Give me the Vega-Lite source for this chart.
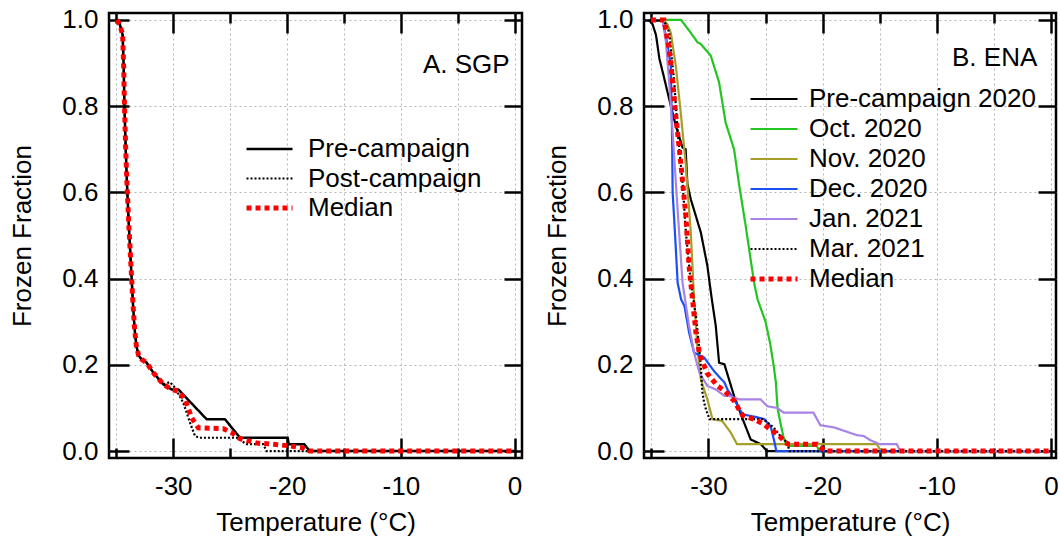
{
  "$schema": "https://vega.github.io/schema/vega-lite/v6.json",
  "padding": {"left": 8, "top": 5, "right": 5, "bottom": 11},
  "config": {
    "font": "Liberation Sans",
    "view": {"stroke": "#000000", "strokeWidth": 2.5},
    "axis": {
      "domain": false,
      "labelFont": "Liberation Sans", "labelFontSize": 26, "labelColor": "#000000",
      "titleFont": "Liberation Sans", "titleFontSize": 26, "titleFontWeight": "normal", "titleColor": "#000000",
      "tickColor": "#000000", "tickWidth": 2.5,
      "gridColor": "#b4b4b4", "gridDash": [2, 3], "gridWidth": 1,
      "labelFlush": false, "labelOverlap": false
    },
    "legend": {"labelFont": "Liberation Sans", "labelFontSize": 26, "labelColor": "#000000", "labelLimit": 0, "clipHeight": 26}
  },
  "datasets": {
    "sgp": [
      {"series": "Pre-campaign", "t": -34.97, "ff": 1.0},
      {"series": "Pre-campaign", "t": -34.7, "ff": 0.99},
      {"series": "Pre-campaign", "t": -34.45, "ff": 0.965},
      {"series": "Pre-campaign", "t": -34.36, "ff": 0.89},
      {"series": "Pre-campaign", "t": -34.29, "ff": 0.8},
      {"series": "Pre-campaign", "t": -34.18, "ff": 0.7},
      {"series": "Pre-campaign", "t": -34.07, "ff": 0.62},
      {"series": "Pre-campaign", "t": -33.9, "ff": 0.52},
      {"series": "Pre-campaign", "t": -33.72, "ff": 0.43},
      {"series": "Pre-campaign", "t": -33.56, "ff": 0.35},
      {"series": "Pre-campaign", "t": -33.42, "ff": 0.29},
      {"series": "Pre-campaign", "t": -33.25, "ff": 0.245},
      {"series": "Pre-campaign", "t": -33.05, "ff": 0.222},
      {"series": "Pre-campaign", "t": -32.8, "ff": 0.213},
      {"series": "Pre-campaign", "t": -32.34, "ff": 0.205},
      {"series": "Pre-campaign", "t": -31.76, "ff": 0.182},
      {"series": "Pre-campaign", "t": -30.88, "ff": 0.155},
      {"series": "Pre-campaign", "t": -30.14, "ff": 0.143},
      {"series": "Pre-campaign", "t": -29.56, "ff": 0.143},
      {"series": "Pre-campaign", "t": -27.07, "ff": 0.074},
      {"series": "Pre-campaign", "t": -25.46, "ff": 0.074},
      {"series": "Pre-campaign", "t": -24.14, "ff": 0.031},
      {"series": "Pre-campaign", "t": -19.95, "ff": 0.031},
      {"series": "Pre-campaign", "t": -19.85, "ff": 0.016},
      {"series": "Pre-campaign", "t": -18.5, "ff": 0.016},
      {"series": "Pre-campaign", "t": -18.0, "ff": 0.0},
      {"series": "Pre-campaign", "t": 0.0, "ff": 0.0},

      {"series": "Post-campaign", "t": -34.97, "ff": 1.0},
      {"series": "Post-campaign", "t": -34.7, "ff": 0.99},
      {"series": "Post-campaign", "t": -34.45, "ff": 0.965},
      {"series": "Post-campaign", "t": -34.36, "ff": 0.89},
      {"series": "Post-campaign", "t": -34.29, "ff": 0.8},
      {"series": "Post-campaign", "t": -34.18, "ff": 0.7},
      {"series": "Post-campaign", "t": -34.07, "ff": 0.62},
      {"series": "Post-campaign", "t": -33.9, "ff": 0.52},
      {"series": "Post-campaign", "t": -33.72, "ff": 0.43},
      {"series": "Post-campaign", "t": -33.56, "ff": 0.35},
      {"series": "Post-campaign", "t": -33.42, "ff": 0.29},
      {"series": "Post-campaign", "t": -33.25, "ff": 0.245},
      {"series": "Post-campaign", "t": -33.05, "ff": 0.222},
      {"series": "Post-campaign", "t": -32.8, "ff": 0.213},
      {"series": "Post-campaign", "t": -32.34, "ff": 0.205},
      {"series": "Post-campaign", "t": -31.76, "ff": 0.182},
      {"series": "Post-campaign", "t": -30.88, "ff": 0.155},
      {"series": "Post-campaign", "t": -30.3, "ff": 0.16},
      {"series": "Post-campaign", "t": -29.85, "ff": 0.147},
      {"series": "Post-campaign", "t": -29.12, "ff": 0.112},
      {"series": "Post-campaign", "t": -28.53, "ff": 0.066},
      {"series": "Post-campaign", "t": -28.09, "ff": 0.035},
      {"series": "Post-campaign", "t": -27.7, "ff": 0.031},
      {"series": "Post-campaign", "t": -24.43, "ff": 0.031},
      {"series": "Post-campaign", "t": -23.56, "ff": 0.016},
      {"series": "Post-campaign", "t": -22.1, "ff": 0.016},
      {"series": "Post-campaign", "t": -21.8, "ff": 0.0},
      {"series": "Post-campaign", "t": 0.0, "ff": 0.0},

      {"series": "Median", "t": -34.97, "ff": 1.0},
      {"series": "Median", "t": -34.7, "ff": 0.99},
      {"series": "Median", "t": -34.45, "ff": 0.965},
      {"series": "Median", "t": -34.36, "ff": 0.89},
      {"series": "Median", "t": -34.29, "ff": 0.8},
      {"series": "Median", "t": -34.18, "ff": 0.7},
      {"series": "Median", "t": -34.07, "ff": 0.62},
      {"series": "Median", "t": -33.9, "ff": 0.52},
      {"series": "Median", "t": -33.72, "ff": 0.43},
      {"series": "Median", "t": -33.56, "ff": 0.35},
      {"series": "Median", "t": -33.42, "ff": 0.29},
      {"series": "Median", "t": -33.25, "ff": 0.245},
      {"series": "Median", "t": -33.05, "ff": 0.222},
      {"series": "Median", "t": -32.8, "ff": 0.213},
      {"series": "Median", "t": -32.34, "ff": 0.205},
      {"series": "Median", "t": -31.76, "ff": 0.182},
      {"series": "Median", "t": -30.88, "ff": 0.155},
      {"series": "Median", "t": -30.14, "ff": 0.143},
      {"series": "Median", "t": -29.56, "ff": 0.139},
      {"series": "Median", "t": -28.97, "ff": 0.12},
      {"series": "Median", "t": -28.38, "ff": 0.077},
      {"series": "Median", "t": -27.8, "ff": 0.054},
      {"series": "Median", "t": -25.6, "ff": 0.052},
      {"series": "Median", "t": -24.87, "ff": 0.043},
      {"series": "Median", "t": -24.14, "ff": 0.029},
      {"series": "Median", "t": -22.68, "ff": 0.019},
      {"series": "Median", "t": -21.2, "ff": 0.016},
      {"series": "Median", "t": -19.75, "ff": 0.012},
      {"series": "Median", "t": -18.73, "ff": 0.008},
      {"series": "Median", "t": -18.0, "ff": 0.0},
      {"series": "Median", "t": 0.0, "ff": 0.0}
    ],
    "ena": [
      {"series": "Pre-campaign 2020", "t": -35.25, "ff": 1.0},
      {"series": "Pre-campaign 2020", "t": -34.9, "ff": 0.99},
      {"series": "Pre-campaign 2020", "t": -34.6, "ff": 0.965},
      {"series": "Pre-campaign 2020", "t": -34.3, "ff": 0.91},
      {"series": "Pre-campaign 2020", "t": -34.0, "ff": 0.878},
      {"series": "Pre-campaign 2020", "t": -33.44, "ff": 0.816},
      {"series": "Pre-campaign 2020", "t": -32.86, "ff": 0.754},
      {"series": "Pre-campaign 2020", "t": -32.27, "ff": 0.704},
      {"series": "Pre-campaign 2020", "t": -32.0, "ff": 0.7},
      {"series": "Pre-campaign 2020", "t": -31.85, "ff": 0.62},
      {"series": "Pre-campaign 2020", "t": -31.55, "ff": 0.584},
      {"series": "Pre-campaign 2020", "t": -30.67, "ff": 0.507},
      {"series": "Pre-campaign 2020", "t": -30.1, "ff": 0.43},
      {"series": "Pre-campaign 2020", "t": -29.75, "ff": 0.36},
      {"series": "Pre-campaign 2020", "t": -29.36, "ff": 0.29},
      {"series": "Pre-campaign 2020", "t": -29.07, "ff": 0.205},
      {"series": "Pre-campaign 2020", "t": -28.6, "ff": 0.201},
      {"series": "Pre-campaign 2020", "t": -27.76, "ff": 0.128},
      {"series": "Pre-campaign 2020", "t": -27.0, "ff": 0.074},
      {"series": "Pre-campaign 2020", "t": -26.3, "ff": 0.027},
      {"series": "Pre-campaign 2020", "t": -25.4, "ff": 0.016},
      {"series": "Pre-campaign 2020", "t": -25.0, "ff": 0.004},
      {"series": "Pre-campaign 2020", "t": -24.8, "ff": 0.0},
      {"series": "Pre-campaign 2020", "t": 0.0, "ff": 0.0},

      {"series": "Oct. 2020", "t": -33.8, "ff": 1.0},
      {"series": "Oct. 2020", "t": -32.4, "ff": 1.0},
      {"series": "Oct. 2020", "t": -31.55, "ff": 0.97},
      {"series": "Oct. 2020", "t": -30.96, "ff": 0.948},
      {"series": "Oct. 2020", "t": -30.67, "ff": 0.944},
      {"series": "Oct. 2020", "t": -29.8, "ff": 0.917},
      {"series": "Oct. 2020", "t": -29.07, "ff": 0.855},
      {"series": "Oct. 2020", "t": -28.5, "ff": 0.762},
      {"series": "Oct. 2020", "t": -27.76, "ff": 0.7},
      {"series": "Oct. 2020", "t": -27.3, "ff": 0.615},
      {"series": "Oct. 2020", "t": -26.74, "ff": 0.522},
      {"series": "Oct. 2020", "t": -26.0, "ff": 0.39},
      {"series": "Oct. 2020", "t": -25.7, "ff": 0.352},
      {"series": "Oct. 2020", "t": -25.0, "ff": 0.3},
      {"series": "Oct. 2020", "t": -24.6, "ff": 0.25},
      {"series": "Oct. 2020", "t": -24.3, "ff": 0.2},
      {"series": "Oct. 2020", "t": -24.1, "ff": 0.16},
      {"series": "Oct. 2020", "t": -23.95, "ff": 0.1},
      {"series": "Oct. 2020", "t": -23.7, "ff": 0.066},
      {"series": "Oct. 2020", "t": -23.45, "ff": 0.035},
      {"series": "Oct. 2020", "t": -23.25, "ff": 0.018},
      {"series": "Oct. 2020", "t": -22.9, "ff": 0.012},
      {"series": "Oct. 2020", "t": -20.5, "ff": 0.012},
      {"series": "Oct. 2020", "t": -20.3, "ff": 0.0},
      {"series": "Oct. 2020", "t": 0.0, "ff": 0.0},

      {"series": "Nov. 2020", "t": -34.0, "ff": 1.0},
      {"series": "Nov. 2020", "t": -33.6, "ff": 0.99},
      {"series": "Nov. 2020", "t": -33.3, "ff": 0.97},
      {"series": "Nov. 2020", "t": -32.86, "ff": 0.893},
      {"series": "Nov. 2020", "t": -32.4, "ff": 0.777},
      {"series": "Nov. 2020", "t": -31.98, "ff": 0.661},
      {"series": "Nov. 2020", "t": -31.55, "ff": 0.507},
      {"series": "Nov. 2020", "t": -31.26, "ff": 0.352},
      {"series": "Nov. 2020", "t": -30.96, "ff": 0.236},
      {"series": "Nov. 2020", "t": -30.67, "ff": 0.166},
      {"series": "Nov. 2020", "t": -30.1, "ff": 0.12},
      {"series": "Nov. 2020", "t": -29.65, "ff": 0.074},
      {"series": "Nov. 2020", "t": -28.8, "ff": 0.07},
      {"series": "Nov. 2020", "t": -28.05, "ff": 0.043},
      {"series": "Nov. 2020", "t": -27.5, "ff": 0.016},
      {"series": "Nov. 2020", "t": -15.24, "ff": 0.016},
      {"series": "Nov. 2020", "t": -14.9, "ff": 0.0},
      {"series": "Nov. 2020", "t": 0.0, "ff": 0.0},

      {"series": "Dec. 2020", "t": -34.0, "ff": 1.0},
      {"series": "Dec. 2020", "t": -33.58, "ff": 0.94},
      {"series": "Dec. 2020", "t": -33.3, "ff": 0.893},
      {"series": "Dec. 2020", "t": -33.2, "ff": 0.75},
      {"series": "Dec. 2020", "t": -33.14, "ff": 0.6},
      {"series": "Dec. 2020", "t": -32.94, "ff": 0.507},
      {"series": "Dec. 2020", "t": -32.7, "ff": 0.39},
      {"series": "Dec. 2020", "t": -32.4, "ff": 0.352},
      {"series": "Dec. 2020", "t": -32.1, "ff": 0.336},
      {"series": "Dec. 2020", "t": -31.7, "ff": 0.275},
      {"series": "Dec. 2020", "t": -31.26, "ff": 0.228},
      {"series": "Dec. 2020", "t": -30.38, "ff": 0.217},
      {"series": "Dec. 2020", "t": -29.5, "ff": 0.185},
      {"series": "Dec. 2020", "t": -28.6, "ff": 0.159},
      {"series": "Dec. 2020", "t": -28.34, "ff": 0.143},
      {"series": "Dec. 2020", "t": -27.76, "ff": 0.12},
      {"series": "Dec. 2020", "t": -27.0, "ff": 0.085},
      {"series": "Dec. 2020", "t": -26.0, "ff": 0.08},
      {"series": "Dec. 2020", "t": -25.1, "ff": 0.074},
      {"series": "Dec. 2020", "t": -24.56, "ff": 0.058},
      {"series": "Dec. 2020", "t": -24.27, "ff": 0.027},
      {"series": "Dec. 2020", "t": -24.05, "ff": 0.0},
      {"series": "Dec. 2020", "t": 0.0, "ff": 0.0},

      {"series": "Jan. 2021", "t": -34.0, "ff": 1.0},
      {"series": "Jan. 2021", "t": -33.73, "ff": 0.948},
      {"series": "Jan. 2021", "t": -33.44, "ff": 0.855},
      {"series": "Jan. 2021", "t": -33.14, "ff": 0.74},
      {"series": "Jan. 2021", "t": -32.86, "ff": 0.623},
      {"series": "Jan. 2021", "t": -32.57, "ff": 0.507},
      {"series": "Jan. 2021", "t": -32.27, "ff": 0.39},
      {"series": "Jan. 2021", "t": -31.7, "ff": 0.29},
      {"series": "Jan. 2021", "t": -31.26, "ff": 0.228},
      {"series": "Jan. 2021", "t": -30.8, "ff": 0.182},
      {"series": "Jan. 2021", "t": -30.1, "ff": 0.151},
      {"series": "Jan. 2021", "t": -29.36, "ff": 0.143},
      {"series": "Jan. 2021", "t": -28.6, "ff": 0.128},
      {"series": "Jan. 2021", "t": -28.2, "ff": 0.128},
      {"series": "Jan. 2021", "t": -27.3, "ff": 0.12},
      {"series": "Jan. 2021", "t": -25.43, "ff": 0.12},
      {"series": "Jan. 2021", "t": -24.85, "ff": 0.104},
      {"series": "Jan. 2021", "t": -23.97, "ff": 0.1},
      {"series": "Jan. 2021", "t": -23.4, "ff": 0.089},
      {"series": "Jan. 2021", "t": -20.8, "ff": 0.089},
      {"series": "Jan. 2021", "t": -20.2, "ff": 0.06},
      {"series": "Jan. 2021", "t": -19.0, "ff": 0.055},
      {"series": "Jan. 2021", "t": -18.0, "ff": 0.046},
      {"series": "Jan. 2021", "t": -17.0, "ff": 0.037},
      {"series": "Jan. 2021", "t": -16.4, "ff": 0.035},
      {"series": "Jan. 2021", "t": -15.8, "ff": 0.025},
      {"series": "Jan. 2021", "t": -15.0, "ff": 0.016},
      {"series": "Jan. 2021", "t": -13.5, "ff": 0.016},
      {"series": "Jan. 2021", "t": -13.2, "ff": 0.0},
      {"series": "Jan. 2021", "t": 0.0, "ff": 0.0},

      {"series": "Mar. 2021", "t": -34.1, "ff": 1.0},
      {"series": "Mar. 2021", "t": -33.7, "ff": 0.99},
      {"series": "Mar. 2021", "t": -33.44, "ff": 0.97},
      {"series": "Mar. 2021", "t": -33.0, "ff": 0.855},
      {"series": "Mar. 2021", "t": -32.7, "ff": 0.74},
      {"series": "Mar. 2021", "t": -32.27, "ff": 0.623},
      {"series": "Mar. 2021", "t": -31.98, "ff": 0.507},
      {"series": "Mar. 2021", "t": -31.55, "ff": 0.39},
      {"series": "Mar. 2021", "t": -31.1, "ff": 0.313},
      {"series": "Mar. 2021", "t": -30.8, "ff": 0.236},
      {"series": "Mar. 2021", "t": -30.67, "ff": 0.197},
      {"series": "Mar. 2021", "t": -30.55, "ff": 0.14},
      {"series": "Mar. 2021", "t": -30.38, "ff": 0.112},
      {"series": "Mar. 2021", "t": -30.2, "ff": 0.095},
      {"series": "Mar. 2021", "t": -29.9, "ff": 0.074},
      {"series": "Mar. 2021", "t": -25.2, "ff": 0.074},
      {"series": "Mar. 2021", "t": -24.27, "ff": 0.054},
      {"series": "Mar. 2021", "t": -23.7, "ff": 0.035},
      {"series": "Mar. 2021", "t": -23.1, "ff": 0.02},
      {"series": "Mar. 2021", "t": -22.9, "ff": 0.0},
      {"series": "Mar. 2021", "t": 0.0, "ff": 0.0},

      {"series": "Median", "t": -35.04, "ff": 1.0},
      {"series": "Median", "t": -33.9, "ff": 1.0},
      {"series": "Median", "t": -33.44, "ff": 0.932},
      {"series": "Median", "t": -33.14, "ff": 0.855},
      {"series": "Median", "t": -32.86, "ff": 0.777},
      {"series": "Median", "t": -32.4, "ff": 0.661},
      {"series": "Median", "t": -31.98, "ff": 0.545},
      {"series": "Median", "t": -31.7, "ff": 0.429},
      {"series": "Median", "t": -31.4, "ff": 0.352},
      {"series": "Median", "t": -31.1, "ff": 0.275},
      {"series": "Median", "t": -30.8, "ff": 0.228},
      {"series": "Median", "t": -30.67, "ff": 0.217},
      {"series": "Median", "t": -30.1, "ff": 0.18},
      {"series": "Median", "t": -29.65, "ff": 0.165},
      {"series": "Median", "t": -29.2, "ff": 0.151},
      {"series": "Median", "t": -28.6, "ff": 0.14},
      {"series": "Median", "t": -27.7, "ff": 0.115},
      {"series": "Median", "t": -27.3, "ff": 0.095},
      {"series": "Median", "t": -27.0, "ff": 0.083},
      {"series": "Median", "t": -26.0, "ff": 0.074},
      {"series": "Median", "t": -25.14, "ff": 0.062},
      {"series": "Median", "t": -24.56, "ff": 0.05},
      {"series": "Median", "t": -23.97, "ff": 0.04},
      {"series": "Median", "t": -23.25, "ff": 0.02},
      {"series": "Median", "t": -23.0, "ff": 0.016},
      {"series": "Median", "t": -20.5, "ff": 0.016},
      {"series": "Median", "t": -19.8, "ff": 0.0},
      {"series": "Median", "t": 0.0, "ff": 0.0}
    ]
  },
  "spacing": 122,
  "bounds": "flush",
  "resolve": {"scale": {"color": "independent", "strokeDash": "independent", "strokeWidth": "independent"}},
  "hconcat": [
    {
      "width": 413,
      "height": 445,
      "data": {"name": "sgp"},
      "resolve": {"axis": {"x": "independent", "y": "independent"}},
      "layer": [
        {
          "transform": [{"filter": "datum.series !== 'Median'"}],
          "mark": {"type": "line", "clip": true},
          "encoding": {
            "x": {"field": "t", "type": "quantitative",
              "scale": {"domain": [-35.65, 0.65], "nice": false, "zero": false},
              "axis": {"orient": "bottom", "values": [-35, -30, -25, -20, -15, -10, -5, 0],
                "labelExpr": "datum.value % 10 === 0 ? '' + datum.value : ''",
                "tickSize": {"condition": {"test": "datum.value % 10 === 0", "value": -20}, "value": -10},
                "labelPadding": 35, "grid": true, "title": "Temperature (°C)", "titlePadding": 0}},
            "y": {"field": "ff", "type": "quantitative",
              "scale": {"domain": [-0.016, 1.016], "nice": false, "zero": false},
              "axis": {"orient": "left", "values": [0, 0.2, 0.4, 0.6, 0.8, 1], "format": ".1f",
                "tickSize": -20, "labelPadding": 31, "grid": true, "title": "Frozen Fraction", "titlePadding": 26}},
            "color": {"field": "series", "type": "nominal",
              "scale": {"domain": ["Pre-campaign", "Post-campaign", "Median"], "range": ["#000000", "#000000", "#ff0000"]},
              "legend": {"orient": "none", "legendX": 135, "legendY": 123, "title": null, "symbolType": "stroke", "symbolSize": 2116, "labelOffset": 13, "rowPadding": 3.5, "padding": 0}},
            "strokeDash": {"field": "series", "type": "nominal",
              "scale": {"type": "ordinal", "domain": ["Pre-campaign", "Post-campaign", "Median"], "range": [[1, 0], [2, 2], [5, 4]]},
              "legend": {"orient": "none", "legendX": 135, "legendY": 123, "title": null, "symbolType": "stroke", "symbolSize": 2116, "labelOffset": 13, "rowPadding": 3.5, "padding": 0}},
            "strokeWidth": {"field": "series", "type": "nominal",
              "scale": {"type": "ordinal", "domain": ["Pre-campaign", "Post-campaign", "Median"], "range": [2.5, 2.2, 5]},
              "legend": {"orient": "none", "legendX": 135, "legendY": 123, "title": null, "symbolType": "stroke", "symbolSize": 2116, "labelOffset": 13, "rowPadding": 3.5, "padding": 0}}
          }
        },
        {
          "transform": [{"filter": "datum.series === 'Median'"}],
          "mark": {"type": "line", "clip": true},
          "encoding": {
            "x": {"field": "t", "type": "quantitative",
              "scale": {"domain": [-35.65, 0.65], "nice": false, "zero": false},
              "axis": {"orient": "top", "values": [-35, -30, -25, -20, -15, -10, -5, 0], "labels": false,
                "tickSize": {"condition": {"test": "datum.value % 10 === 0", "value": -20}, "value": -10},
                "grid": false, "title": null}},
            "y": {"field": "ff", "type": "quantitative",
              "scale": {"domain": [-0.016, 1.016], "nice": false, "zero": false},
              "axis": {"orient": "right", "values": [0, 0.2, 0.4, 0.6, 0.8, 1], "labels": false,
                "tickSize": -18, "grid": false, "title": null}},
            "color": {"field": "series", "type": "nominal",
              "scale": {"domain": ["Pre-campaign", "Post-campaign", "Median"], "range": ["#000000", "#000000", "#ff0000"]},
              "legend": {"orient": "none", "legendX": 135, "legendY": 123, "title": null, "symbolType": "stroke", "symbolSize": 2116, "labelOffset": 13, "rowPadding": 3.5, "padding": 0}},
            "strokeDash": {"field": "series", "type": "nominal",
              "scale": {"type": "ordinal", "domain": ["Pre-campaign", "Post-campaign", "Median"], "range": [[1, 0], [2, 2], [5, 4]]},
              "legend": {"orient": "none", "legendX": 135, "legendY": 123, "title": null, "symbolType": "stroke", "symbolSize": 2116, "labelOffset": 13, "rowPadding": 3.5, "padding": 0}},
            "strokeWidth": {"field": "series", "type": "nominal",
              "scale": {"type": "ordinal", "domain": ["Pre-campaign", "Post-campaign", "Median"], "range": [2.5, 2.2, 5]},
              "legend": {"orient": "none", "legendX": 135, "legendY": 123, "title": null, "symbolType": "stroke", "symbolSize": 2116, "labelOffset": 13, "rowPadding": 3.5, "padding": 0}}
          }
        },
        {
          "data": {"values": [{"label": "A. SGP"}]},
          "mark": {"type": "text", "align": "right", "baseline": "alphabetic", "fontSize": 26, "font": "Liberation Sans", "color": "#000000"},
          "encoding": {
            "x": {"datum": -0.44, "type": "quantitative", "scale": {"domain": [-35.65, 0.65], "nice": false, "zero": false}, "axis": null},
            "y": {"datum": 0.878, "type": "quantitative", "scale": {"domain": [-0.016, 1.016], "nice": false, "zero": false}, "axis": null},
            "text": {"field": "label", "type": "nominal"}
          }
        }
      ]
    },
    {
      "width": 412,
      "height": 445,
      "data": {"name": "ena"},
      "resolve": {"axis": {"x": "independent", "y": "independent"}},
      "layer": [
        {
          "transform": [{"filter": "datum.series !== 'Median'"}],
          "mark": {"type": "line", "clip": true},
          "encoding": {
            "x": {"field": "t", "type": "quantitative",
              "scale": {"domain": [-35.65, 0.45], "nice": false, "zero": false},
              "axis": {"orient": "bottom", "values": [-35, -30, -25, -20, -15, -10, -5, 0],
                "labelExpr": "datum.value % 10 === 0 ? '' + datum.value : ''",
                "tickSize": {"condition": {"test": "datum.value % 10 === 0", "value": -20}, "value": -10},
                "labelPadding": 35, "grid": true, "title": "Temperature (°C)", "titlePadding": 0}},
            "y": {"field": "ff", "type": "quantitative",
              "scale": {"domain": [-0.016, 1.016], "nice": false, "zero": false},
              "axis": {"orient": "left", "values": [0, 0.2, 0.4, 0.6, 0.8, 1], "format": ".1f",
                "tickSize": -20, "labelPadding": 31, "grid": true, "title": "Frozen Fraction", "titlePadding": 26}},
            "color": {"field": "series", "type": "nominal",
              "scale": {"domain": ["Pre-campaign 2020", "Oct. 2020", "Nov. 2020", "Dec. 2020", "Jan. 2021", "Mar. 2021", "Median"],
                "range": ["#000000", "#22c522", "#a59f2a", "#1c4ff0", "#a883e6", "#000000", "#ff0000"]},
              "legend": {"orient": "none", "legendX": 104, "legendY": 73, "title": null, "symbolType": "stroke", "symbolSize": 2209, "labelOffset": 9, "rowPadding": 4, "padding": 0}},
            "strokeDash": {"field": "series", "type": "nominal",
              "scale": {"type": "ordinal", "domain": ["Pre-campaign 2020", "Oct. 2020", "Nov. 2020", "Dec. 2020", "Jan. 2021", "Mar. 2021", "Median"],
                "range": [[1, 0], [1, 0], [1, 0], [1, 0], [1, 0], [2, 2], [5, 4]]},
              "legend": {"orient": "none", "legendX": 104, "legendY": 73, "title": null, "symbolType": "stroke", "symbolSize": 2209, "labelOffset": 9, "rowPadding": 4, "padding": 0}},
            "strokeWidth": {"field": "series", "type": "nominal",
              "scale": {"type": "ordinal", "domain": ["Pre-campaign 2020", "Oct. 2020", "Nov. 2020", "Dec. 2020", "Jan. 2021", "Mar. 2021", "Median"],
                "range": [2.2, 2.2, 2.2, 2.2, 2.2, 2.2, 5]},
              "legend": {"orient": "none", "legendX": 104, "legendY": 73, "title": null, "symbolType": "stroke", "symbolSize": 2209, "labelOffset": 9, "rowPadding": 4, "padding": 0}}
          }
        },
        {
          "transform": [{"filter": "datum.series === 'Median'"}],
          "mark": {"type": "line", "clip": true},
          "encoding": {
            "x": {"field": "t", "type": "quantitative",
              "scale": {"domain": [-35.65, 0.45], "nice": false, "zero": false},
              "axis": {"orient": "top", "values": [-35, -30, -25, -20, -15, -10, -5, 0], "labels": false,
                "tickSize": {"condition": {"test": "datum.value % 10 === 0", "value": -20}, "value": -10},
                "grid": false, "title": null}},
            "y": {"field": "ff", "type": "quantitative",
              "scale": {"domain": [-0.016, 1.016], "nice": false, "zero": false},
              "axis": {"orient": "right", "values": [0, 0.2, 0.4, 0.6, 0.8, 1], "labels": false,
                "tickSize": -18, "grid": false, "title": null}},
            "color": {"field": "series", "type": "nominal",
              "scale": {"domain": ["Pre-campaign 2020", "Oct. 2020", "Nov. 2020", "Dec. 2020", "Jan. 2021", "Mar. 2021", "Median"],
                "range": ["#000000", "#22c522", "#a59f2a", "#1c4ff0", "#a883e6", "#000000", "#ff0000"]},
              "legend": {"orient": "none", "legendX": 104, "legendY": 73, "title": null, "symbolType": "stroke", "symbolSize": 2209, "labelOffset": 9, "rowPadding": 4, "padding": 0}},
            "strokeDash": {"field": "series", "type": "nominal",
              "scale": {"type": "ordinal", "domain": ["Pre-campaign 2020", "Oct. 2020", "Nov. 2020", "Dec. 2020", "Jan. 2021", "Mar. 2021", "Median"],
                "range": [[1, 0], [1, 0], [1, 0], [1, 0], [1, 0], [2, 2], [5, 4]]},
              "legend": {"orient": "none", "legendX": 104, "legendY": 73, "title": null, "symbolType": "stroke", "symbolSize": 2209, "labelOffset": 9, "rowPadding": 4, "padding": 0}},
            "strokeWidth": {"field": "series", "type": "nominal",
              "scale": {"type": "ordinal", "domain": ["Pre-campaign 2020", "Oct. 2020", "Nov. 2020", "Dec. 2020", "Jan. 2021", "Mar. 2021", "Median"],
                "range": [2.2, 2.2, 2.2, 2.2, 2.2, 2.2, 5]},
              "legend": {"orient": "none", "legendX": 104, "legendY": 73, "title": null, "symbolType": "stroke", "symbolSize": 2209, "labelOffset": 9, "rowPadding": 4, "padding": 0}}
          }
        },
        {
          "data": {"values": [{"label": "B. ENA"}]},
          "mark": {"type": "text", "align": "right", "baseline": "alphabetic", "fontSize": 26, "font": "Liberation Sans", "color": "#000000"},
          "encoding": {
            "x": {"datum": -1.19, "type": "quantitative", "scale": {"domain": [-35.65, 0.45], "nice": false, "zero": false}, "axis": null},
            "y": {"datum": 0.893, "type": "quantitative", "scale": {"domain": [-0.016, 1.016], "nice": false, "zero": false}, "axis": null},
            "text": {"field": "label", "type": "nominal"}
          }
        }
      ]
    }
  ]
}
